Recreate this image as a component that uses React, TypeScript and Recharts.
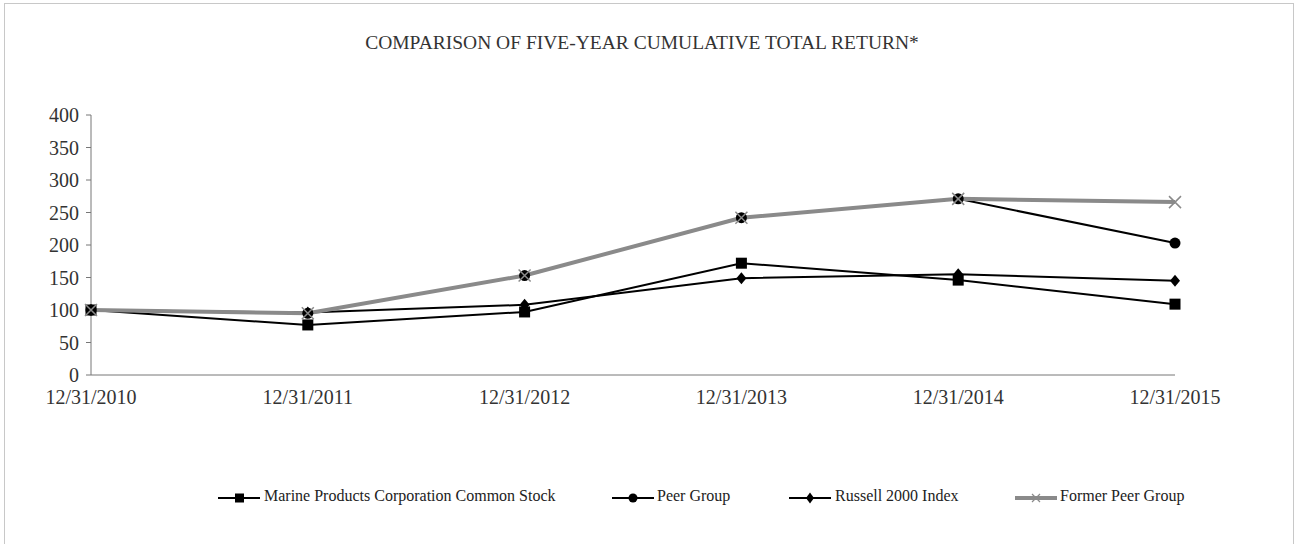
import React from "react";
import { LineChart, Line, XAxis, YAxis } from "recharts";

const years = ["12/31/2010", "12/31/2011", "12/31/2012", "12/31/2013", "12/31/2014", "12/31/2015"];
const marine = [100, 77, 97, 172, 146, 109];
const peerGroup = [100, 95, 153, 242, 271, 203];
const russell = [100, 96, 108, 149, 155, 145];
const formerPeer = [100, 95, 153, 242, 271, 266];
const yTicks = [0, 50, 100, 150, 200, 250, 300, 350, 400];

const data = years.map((year, i) => ({
  year,
  marine: marine[i],
  peer: peerGroup[i],
  russell: russell[i],
  former: formerPeer[i],
}));

const FONT = "'Liberation Serif', 'DejaVu Serif', serif";

const SquareDot = (props: any) => {
  const { cx, cy } = props;
  return <rect x={cx - 5.5} y={cy - 5.5} width={11} height={11} fill="#000" />;
};
const CircleDot = (props: any) => {
  const { cx, cy } = props;
  return <circle cx={cx} cy={cy} r={5.5} fill="#000" />;
};
const DiamondDot = (props: any) => {
  const { cx, cy } = props;
  return (
    <path d={`M${cx},${cy - 6} L${cx + 5},${cy} L${cx},${cy + 6} L${cx - 5},${cy} Z`} fill="#000" />
  );
};
const CrossDot = (props: any) => {
  const { cx, cy } = props;
  const s = 6;
  return (
    <path
      d={`M${cx - s},${cy - s} L${cx + s},${cy + s} M${cx - s},${cy + s} L${cx + s},${cy - s}`}
      stroke="#8a8a8a"
      strokeWidth={1.5}
      fill="none"
    />
  );
};

function LegendIcon({ kind }: { kind: string }) {
  if (kind === "former") {
    return (
      <svg width={42} height={14} style={{ display: "block" }}>
        <line x1={0} y1={7} x2={42} y2={7} stroke="#8a8a8a" strokeWidth={4} />
        <path d="M17,3 L25,11 M17,11 L25,3" stroke="#8a8a8a" strokeWidth={1.2} />
      </svg>
    );
  }
  return (
    <svg width={42} height={14} style={{ display: "block" }}>
      <line x1={0} y1={7} x2={42} y2={7} stroke="#000" strokeWidth={2} />
      {kind === "marine" && <rect x={17} y={2.5} width={9} height={9} fill="#000" />}
      {kind === "peer" && <circle cx={21} cy={7} r={4.5} fill="#000" />}
      {kind === "russell" && <path d="M21,1.5 L25,7 L21,12.5 L17,7 Z" fill="#000" />}
    </svg>
  );
}

const legendItems = [
  { kind: "marine", label: "Marine Products Corporation Common Stock", icon: 218, text: 264 },
  { kind: "peer", label: "Peer Group", icon: 612, text: 657 },
  { kind: "russell", label: "Russell 2000 Index", icon: 789, text: 835 },
  { kind: "former", label: "Former Peer Group", icon: 1015, text: 1060 },
];

export default function App() {
  return (
    <div style={{ position: "absolute", left: 0, top: 0, width: 1299, height: 544, background: "#fff", overflow: "hidden" }}>
      <div
        style={{
          position: "absolute",
          left: 4,
          top: 3,
          width: 1290,
          height: 545,
          border: "1.5px solid #c8c8c8",
          boxSizing: "border-box",
        }}
      />
      <div
        style={{
          position: "absolute",
          top: 32,
          left: 0,
          width: 1284,
          textAlign: "center",
          fontFamily: FONT,
          fontSize: 19.5,
          color: "#333",
          whiteSpace: "nowrap",
        }}
      >
        COMPARISON OF FIVE-YEAR CUMULATIVE TOTAL RETURN*
      </div>
      <div style={{ position: "absolute", left: 0, top: 0 }}>
        <LineChart width={1299} height={544} data={data} margin={{ top: 115, right: 124, bottom: 139, left: 31 }}>
          <XAxis
            dataKey="year"
            height={30}
            tick={{ fill: "#333", fontSize: 20, fontFamily: FONT }}
            tickLine={false}
            axisLine={{ stroke: "#777", strokeWidth: 1 }}
            interval={0}
            tickMargin={9}
          />
          <YAxis
            width={60}
            domain={[0, 400]}
            ticks={yTicks}
            tick={{ fill: "#333", fontSize: 20, fontFamily: FONT }}
            tickLine={{ stroke: "#777" }}
            tickSize={5}
            axisLine={{ stroke: "#777", strokeWidth: 1 }}
            tickMargin={7}
          />
          <Line dataKey="marine" stroke="#000" strokeWidth={2} dot={<SquareDot />} isAnimationActive={false} />
          <Line dataKey="russell" stroke="#000" strokeWidth={2} dot={<DiamondDot />} isAnimationActive={false} />
          <Line dataKey="peer" stroke="#000" strokeWidth={2} dot={<CircleDot />} isAnimationActive={false} />
          <Line dataKey="former" stroke="#8a8a8a" strokeWidth={4} dot={<CrossDot />} isAnimationActive={false} />
        </LineChart>
      </div>
      {legendItems.map((item) => (
        <React.Fragment key={item.kind}>
          <div style={{ position: "absolute", left: item.icon, top: 491 }}>
            <LegendIcon kind={item.kind} />
          </div>
          <div
            style={{
              position: "absolute",
              left: item.text,
              top: 487,
              fontFamily: FONT,
              fontSize: 16,
              color: "#222",
              whiteSpace: "nowrap",
            }}
          >
            {item.label}
          </div>
        </React.Fragment>
      ))}
    </div>
  );
}
